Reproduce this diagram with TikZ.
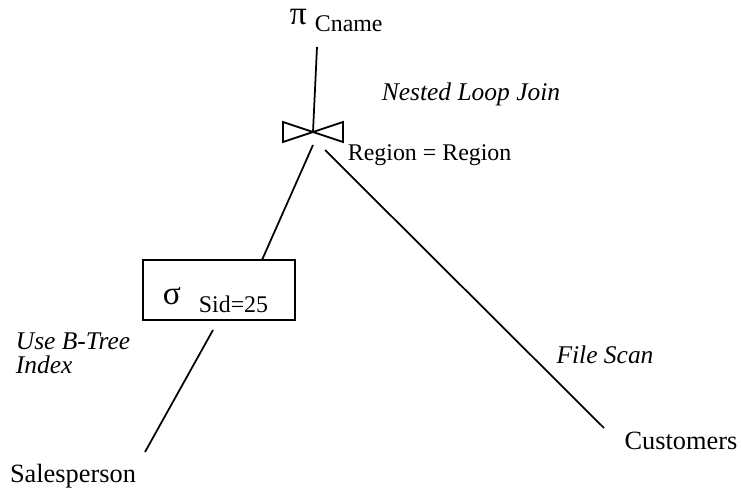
\documentclass[tikz,border=0pt]{standalone}
\usepackage{fontspec}
\setmainfont{Liberation Serif}
\begin{document}
\begin{tikzpicture}[x=0.02cm, y=-0.02cm, line width=1pt]
		\tikzset{lb/.style={inner sep=0pt, font=\fontsize{13.6}{15}\selectfont}};
		\tikzset{gr/.style={inner sep=0pt, font=\fontsize{19}{20}\selectfont}};
		\tikzset{note/.style={inner sep=0pt, font=\fontsize{14.5}{14}\selectfont\itshape, align=left}};
		\tikzset{rel/.style={inner sep=0pt, font=\fontsize{15}{17}\selectfont}};
		\tikzset{op/.style={draw, rectangle, minimum width=3.04cm, minimum height=1.2cm, inner sep=0pt}};
		\useasboundingbox (0,0) rectangle (741,493);

		\node[gr, anchor=base west] (pi) at (289,25) {π};
		\node[lb, anchor=base west] (cname) at (314,32) {Cname};
		\node[note] (nlj) at (471,94) {Nested Loop Join};
		\node[lb, anchor=base west] (cond) at (347,161) {Region = Region};
		\node[op] (sel) at (219,290) {};
		\node[gr, anchor=base west] (sig) at (162,305) {σ};
		\node[lb, anchor=base west] (sid) at (198,313) {Sid=25};
		\node[note, anchor=base west] (idx) at (15,374) {Use B-Tree\\Index};
		\node[note] (scan) at (605,355) {File Scan};
		\node[rel] (sp) at (73,476) {Salesperson};
		\node[rel] (cu) at (681,441) {Customers};

		\coordinate (join) at (313,132);
		\coordinate (p0) at (317,47);
		\coordinate (j1) at (313,145);
		\coordinate (j2) at (325,150);
		\coordinate (s0) at (262,260);
		\coordinate (s1) at (213,330);
		\coordinate (sp0) at (145,452);
		\coordinate (cu0) at (604,428);

		% join symbol
		\draw (join) ++(-30,-10) -- ++(0,20) -- (join) -- cycle;
		\draw (join) ++(30,-10) -- ++(0,20) -- (join) -- cycle;

		\draw (p0) -- (join);
		\draw (j1) -- (s0);
		\draw (j2) -- (cu0);
		\draw (s1) -- (sp0);

\end{tikzpicture}
\end{document}
